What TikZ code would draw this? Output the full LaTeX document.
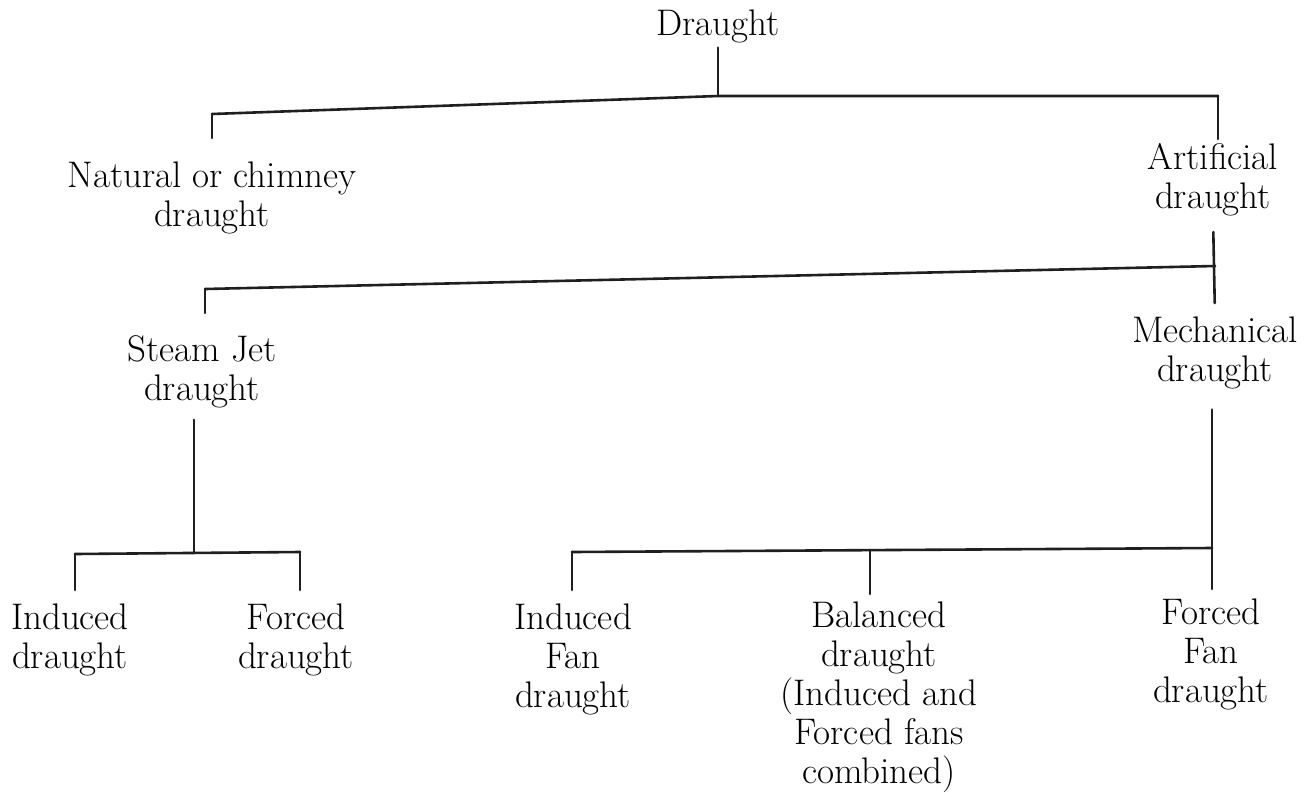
\documentclass[tikz,border=0pt]{standalone}
\begin{document}
\begin{tikzpicture}[x=1pt,y=-1pt,
  lbl/.style={align=center,font=\fontsize{37}{39}\selectfont,inner sep=0pt,anchor=north},
  conn/.style={line width=2.6pt,line cap=round,line join=round,draw=black!88}]
\useasboundingbox[fill=white] (0,0) rectangle (1310,796);
% labels
\node[lbl] (draught) at (718,10) {Draught};
\node[lbl] (nat) at (212,162) {Natural or chimney\\draught};
\node[lbl] (art) at (1213,143) {Artificial\\draught};
\node[lbl] (steam) at (202,335) {Steam Jet\\draught};
\node[lbl] (mech) at (1215,317) {Mechanical\\draught};
\node[lbl] (ind) at (70,604) {Induced\\draught};
\node[lbl] (forc) at (296,604) {Forced\\draught};
\node[lbl] (indfan) at (573,604) {Induced\\Fan\\draught};
\node[lbl] (bal) at (879,602) {Balanced\\draught\\(Induced and\\Forced fans\\combined)};
\node[lbl] (forcfan) at (1211,599) {Forced\\Fan\\draught};
% junctions
\coordinate (j1) at (718,96);
\coordinate (j1l) at (212,114);
\coordinate (j1r) at (1218,96);
\coordinate (j2r) at (1215,266);
\coordinate (j2l) at (205,289);
\coordinate (j3) at (194,553);
\coordinate (j3l) at (75,554);
\coordinate (j3r) at (300,552);
\coordinate (j4r) at (1212,548);
\coordinate (j4m) at (870,550);
\coordinate (j4l) at (572,552);
% connectors
\draw[conn,shorten <=4pt] (draught.south) -- (j1);
\draw[conn] (j1l) -- (j1) -- (j1r);
\draw[conn,shorten >=24pt] (j1l) -- (nat.north);
\draw[conn,shorten >=4pt] (j1r) -- (j1r |- art.north);
\draw[conn,shorten <=16pt,shorten >=14pt] (art.south) -- (mech.north);
\draw[conn] (j2l) -- (j2r);
\draw[conn,shorten >=22pt] (j2l) -- (j2l |- steam.north);
\draw[conn,shorten <=12pt] (j3 |- steam.south) -- (j3);
\draw[conn] (j3l) -- (j3r);
\draw[conn,shorten >=14pt] (j3l) -- (j3l |- ind.north);
\draw[conn,shorten >=14pt] (j3r) -- (j3r |- forc.north);
\draw[conn,shorten <=20pt,shorten >=10pt] (j4r |- mech.south) -- (j4r |- forcfan.north);
\draw[conn] (j4l) -- (j4r);
\draw[conn,shorten >=14pt] (j4l) -- (j4l |- indfan.north);
\draw[conn,shorten >=8pt] (j4m) -- (j4m |- bal.north);
\end{tikzpicture}
\end{document}
